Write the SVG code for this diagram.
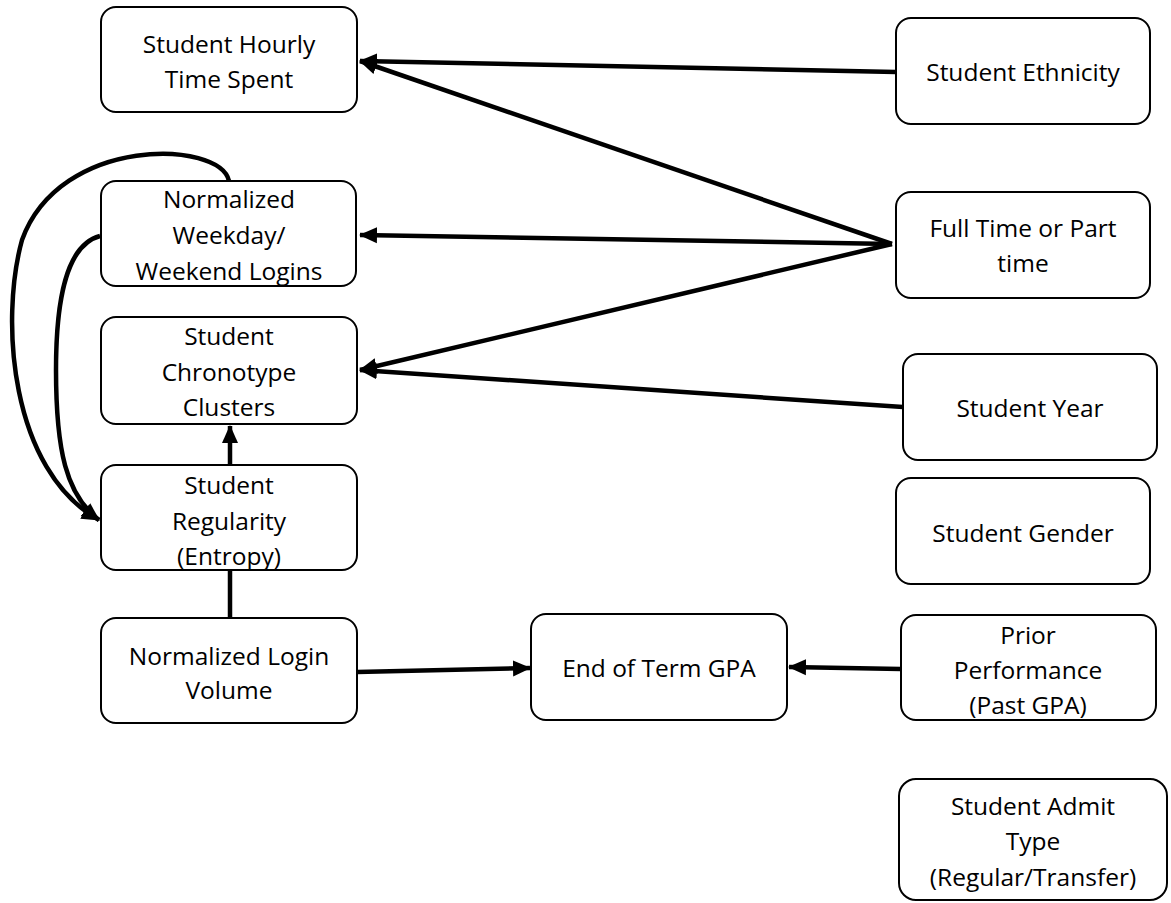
<svg xmlns="http://www.w3.org/2000/svg" width="1171" height="903" viewBox="0 0 1171 903">
  <style>
    .box { fill: #ffffff; stroke: #000000; stroke-width: 2; }
    .lbl { font-family: "Open Sans", "Liberation Sans", sans-serif; font-size: 24.5px; fill: #000000; text-anchor: middle; dominant-baseline: central; }
    .edge { fill: none; stroke: #000000; stroke-width: 4.5; }
  </style>
  <defs>
    <marker id="arrow" markerUnits="userSpaceOnUse" markerWidth="18" markerHeight="18" viewBox="0 0 18 18" refX="17" refY="9" orient="auto">
      <path d="M0,1 L18,9 L0,17 Z" fill="#000000"/>
    </marker>
  </defs>

  <g id="connectors">
    <path class="edge" d="M896,72 L360,61" marker-end="url(#arrow)"/>
    <path class="edge" d="M892,244 L360,61" marker-end="url(#arrow)"/>
    <path class="edge" d="M892,244 L360,235" marker-end="url(#arrow)"/>
    <path class="edge" d="M892,244 L360,370" marker-end="url(#arrow)"/>
    <path class="edge" d="M903,407 L360,370" marker-end="url(#arrow)"/>
    <path class="edge" d="M230,465 L230,426" marker-end="url(#arrow)"/>
    <path class="edge" d="M230,618 L230,570"/>
    <path class="edge" d="M357,672 L530,668" marker-end="url(#arrow)"/>
    <path class="edge" d="M901,669 L789,667" marker-end="url(#arrow)"/>
    <path class="edge" d="M229,181 C 220,140 60,135 22,240 C 0,320 10,470 99,520" marker-end="url(#arrow)"/>
    <path class="edge" d="M100,236 C 66,245 56,300 56,370 C 56,450 66,495 99,520" marker-end="url(#arrow)"/>
  </g>

  <g id="node-hourly">
    <rect class="box" x="101" y="7" width="256" height="105" rx="15"/>
    <text class="lbl" x="229" y="43">Student Hourly</text>
    <text class="lbl" x="229" y="78">Time Spent</text>
  </g>
  <g id="node-ethnicity">
    <rect class="box" x="896" y="18" width="254" height="106" rx="15"/>
    <text class="lbl" x="1023" y="71">Student Ethnicity</text>
  </g>
  <g id="node-weekday">
    <rect class="box" x="101" y="181" width="255" height="105" rx="15"/>
    <text class="lbl" x="229" y="198">Normalized</text>
    <text class="lbl" x="229" y="234">Weekday/</text>
    <text class="lbl" x="229" y="270">Weekend Logins</text>
  </g>
  <g id="node-fulltime">
    <rect class="box" x="896" y="192" width="254" height="106" rx="15"/>
    <text class="lbl" x="1023" y="227">Full Time or Part</text>
    <text class="lbl" x="1023" y="262">time</text>
  </g>
  <g id="node-chronotype">
    <rect class="box" x="101" y="317" width="256" height="107" rx="15"/>
    <text class="lbl" x="229" y="335">Student</text>
    <text class="lbl" x="229" y="371">Chronotype</text>
    <text class="lbl" x="229" y="406">Clusters</text>
  </g>
  <g id="node-year">
    <rect class="box" x="903" y="354" width="254" height="106" rx="15"/>
    <text class="lbl" x="1030" y="407">Student Year</text>
  </g>
  <g id="node-regularity">
    <rect class="box" x="101" y="465" width="256" height="105" rx="15"/>
    <text class="lbl" x="229" y="484">Student</text>
    <text class="lbl" x="229" y="520">Regularity</text>
    <text class="lbl" x="229" y="555">(Entropy)</text>
  </g>
  <g id="node-gender">
    <rect class="box" x="896" y="478" width="254" height="106" rx="15"/>
    <text class="lbl" x="1023" y="532">Student Gender</text>
  </g>
  <g id="node-loginvolume">
    <rect class="box" x="101" y="618" width="256" height="105" rx="15"/>
    <text class="lbl" x="229" y="655">Normalized Login</text>
    <text class="lbl" x="229" y="689">Volume</text>
  </g>
  <g id="node-gpa">
    <rect class="box" x="531" y="614" width="256" height="106" rx="15"/>
    <text class="lbl" x="659" y="667">End of Term GPA</text>
  </g>
  <g id="node-prior">
    <rect class="box" x="901" y="615" width="255" height="105" rx="15"/>
    <text class="lbl" x="1028" y="634">Prior</text>
    <text class="lbl" x="1028" y="669">Performance</text>
    <text class="lbl" x="1028" y="704">(Past GPA)</text>
  </g>
  <g id="node-admit">
    <rect class="box" x="899" y="779" width="268" height="121" rx="17"/>
    <text class="lbl" x="1033" y="805">Student Admit</text>
    <text class="lbl" x="1033" y="840">Type</text>
    <text class="lbl" x="1033" y="876">(Regular/Transfer)</text>
  </g>
</svg>
